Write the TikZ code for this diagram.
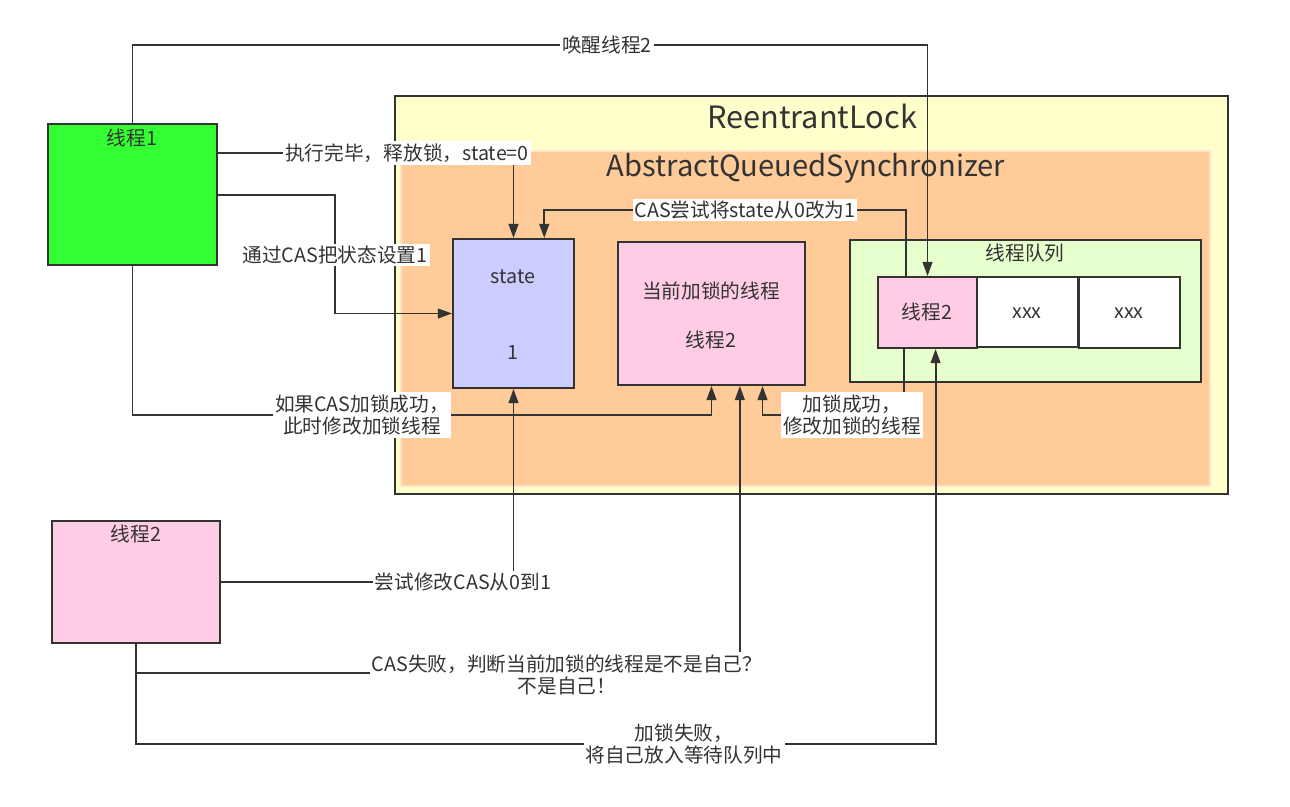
\documentclass[tikz,border=0pt]{standalone}
\usepackage{fontspec}
\setmainfont{Noto Sans CJK SC}
\usetikzlibrary{arrows.meta,fit,calc}
\definecolor{lc}{HTML}{333333}
\definecolor{tc}{HTML}{333333}
\definecolor{cgreen}{HTML}{33FF33}
\definecolor{cpink}{HTML}{FFCCE6}
\definecolor{cstate}{HTML}{CCCCFF}
\definecolor{cyellow}{HTML}{FFFFCC}
\definecolor{corange}{HTML}{FFCC99}
\definecolor{corangeb}{HTML}{FFE3C6}
\definecolor{cqueue}{HTML}{E6FFCC}
\newcommand{\labfont}{\fontsize{11.2pt}{13pt}\selectfont}
\newcommand{\ttlfont}{\fontsize{17.5pt}{20pt}\selectfont}
\newcommand{\aqsfont}{\fontsize{16.6pt}{20pt}\selectfont}
\tikzset{
  box/.style={draw=lc, line width=1.1pt, inner sep=0pt},
  conn/.style={draw=lc, line width=1.1pt},
  arr/.style={conn, -{Triangle[length=8pt,width=5.5pt]}},
  lab/.style={fill=white, text=tc, inner sep=1.2pt, align=center, font=\labfont},
  txt/.style={text=tc, inner sep=0pt, align=center, font=\labfont},
  ttl/.style={text=tc, inner sep=0pt, font=\ttlfont},
}
\begin{document}
\begin{tikzpicture}[x=0.02cm,y=-0.02cm]
\useasboundingbox (0,0) rectangle (1290,807);
% containers
\node[box, fill=cyellow, fit={(395,96)(1228,494)}] (rl) {};
\node[draw=corangeb, line width=1.1pt, inner sep=0pt, fill=corange, fit={(401,151)(1210,486)}] (aqs) {};
\node[ttl] (rlt) at (812,116) {ReentrantLock};
\node[ttl, font=\aqsfont] (aqst) at (806,168) {AbstractQueuedSynchronizer};
% boxes
\node[box, fill=cgreen, fit={(48,124)(217,265)}] (t1) {};
\node[txt] (t1t) at (132,138) {线程1};
\node[box, fill=cpink, fit={(52,521)(220,643)}] (t2) {};
\node[txt] (t2t) at (136,534) {线程2};
\node[box, fill=cstate, fit={(453,239)(574,388)}] (st) {};
\node[txt] (stt) at (513,277) {state};
\node[txt] (stv) at (513,352) {1};
\node[box, fill=cpink, fit={(618,242)(805,385)}] (cur) {};
\node[txt] (curt) at (711,291) {当前加锁的线程};
\node[txt] (curv) at (711,340) {线程2};
\node[box, fill=cqueue, fit={(850,240)(1201,382)}] (queue) {};
\node[txt] (queuet) at (1025,253) {线程队列};
\node[box, fill=cpink, fit={(878,277)(977,348)}] (q2) {};
\node[txt] (q2t) at (927,312) {线程2};
\node[box, fill=white, fit={(977,277)(1078,347)}] (x1) {};
\node[txt] (x1t) at (1027,313) {xxx};
\node[box, fill=white, fit={(1079,277)(1180,348)}] (x2) {};
\node[txt] (x2t) at (1129,313) {xxx};
% label anchors
\coordinate (cwake) at (607,45);
\coordinate (crel) at (407,153);
\coordinate (cset) at (335,195);
\coordinate (cif) at (362,415);
\coordinate (ccas) at (745,210);
\coordinate (cok) at (852,415);
\coordinate (cfail) at (500,673);
\coordinate (cq) at (684,744);
% connectors
\draw[arr] (t1.north) |- (cwake) -| (q2.north);
\draw[arr] (t1.east |- crel) -| (st.north);
\draw[arr] (t1.east |- cset) -- (cset) |- (st.west);
\draw[arr] (t1.south) |- (cif) -| (cur.south);
\draw[arr] ($(q2.north west)!0.29!(q2.north east)$) |- (ccas) -| ($(st.north west)!0.75!(st.north east)$);
\draw[arr] ($(q2.south west)!0.27!(q2.south east)$) |- (cok) -| ($(cur.south west)!0.77!(cur.south east)$);
\draw[arr] (t2.east) -| (st.south);
\draw[arr] (t2.south) |- (cfail) -| ($(cur.south west)!0.65!(cur.south east)$);
\draw[arr] (t2.south) |- (cq) -| ($(q2.south west)!0.58!(q2.south east)$);
% labels
\node[lab] (lwake) at (cwake) {唤醒线程2};
\node[lab] (lrel) at (crel) {执行完毕，释放锁，state=0};
\node[lab] (lset) at (335,255) {通过CAS把状态设置1};
\node[lab] (lif) at (cif) {如果CAS加锁成功，\\此时修改加锁线程};
\node[lab] (lcas) at (ccas) {CAS尝试将state从0改为1};
\node[lab] (lok) at (cok) {加锁成功，\\修改加锁的线程};
\node[lab] (ltry) at (463,582) {尝试修改CAS从0到1};
\node[lab] (lfail) at (567,675) {CAS失败，判断当前加锁的线程是不是自己？\\不是自己！};
\node[lab] (lq) at (cq) {加锁失败，\\将自己放入等待队列中};
\end{tikzpicture}
\end{document}
